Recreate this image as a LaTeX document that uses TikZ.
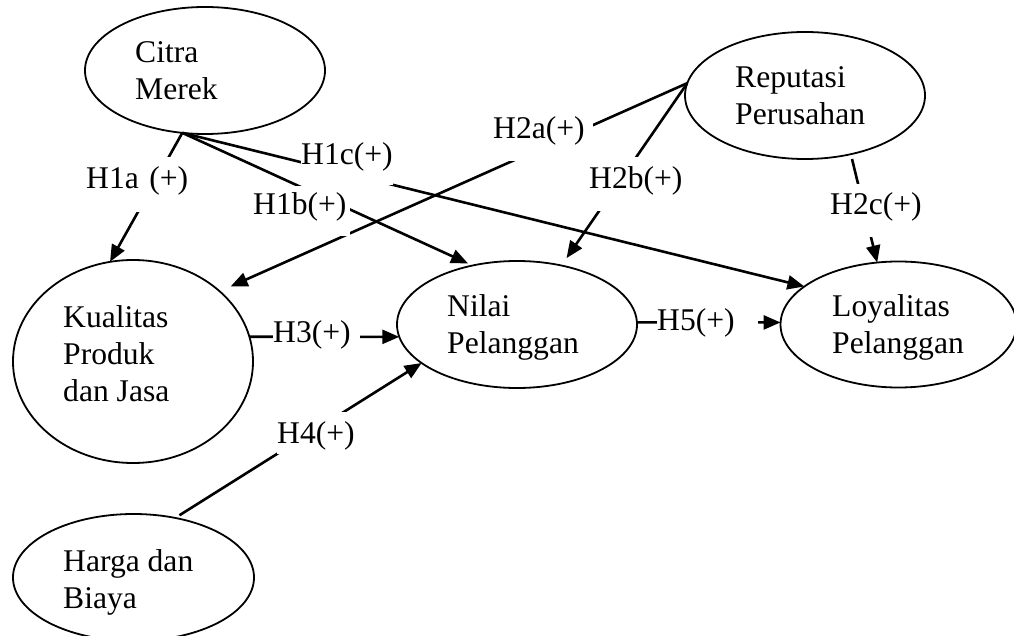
\documentclass[tikz,border=0pt]{standalone}
\usepackage{fontspec}
\setmainfont{Liberation Serif}
\usetikzlibrary{shapes.geometric,arrows.meta}
\begin{document}
\begin{tikzpicture}[x=1pt,y=-1pt,
  font=\fontsize{31.6}{37}\selectfont,
  ell/.style={ellipse, draw, line width=1.8pt, inner sep=0pt, outer sep=0pt},
  txt/.style={anchor=base west, align=left, inner sep=0pt},
  conn/.style={line width=2.6pt},
  arr/.style={conn, -{Triangle[length=17pt,width=14pt]}},
  lbl/.style={fill=white, inner sep=0pt, anchor=base west, align=left},
]
\useasboundingbox[fill=white] (0,0) rectangle (1014,636);
% ellipses
\node[ell, minimum width=240pt, minimum height=127pt] (citra) at (205,70.5) {};
\node[ell, minimum width=240pt, minimum height=127pt] (rep) at (805,95.5) {};
\node[ell, minimum width=240pt, minimum height=203pt] (kual) at (133,361.5) {};
\node[ell, minimum width=240pt, minimum height=127pt] (nilai) at (517,324.5) {};
\node[ell, minimum width=236pt, minimum height=126pt] (loy) at (898.5,324.5) {};
\node[ell, minimum width=241pt, minimum height=127pt] (harga) at (133.5,577.5) {};
% texts (anchored at the baseline of the last line)
\node[txt] (citraT) at (135,100) {Citra\\Merek};
\node[txt] (repT) at (735,125) {Reputasi\\Perusahan};
\node[txt] (kualT) at (63,401) {Kualitas\\Produk\\dan Jasa};
\node[txt] (nilaiT) at (447,353) {Nilai\\Pelanggan};
\node[txt] (loyT) at (832,353) {Loyalitas\\Pelanggan};
\node[txt] (hargaT) at (63,608) {Harga dan\\Biaya};
% connectors
\draw[arr] (citra.-110) -- (kual.103);
\draw[arr, shorten >=5pt] (citra.-110) -- (nilai.127);
\draw[arr] (citra.-110) -- (loy.158);
\draw[arr, shorten >=12pt] (rep.174) -- (kual.39);
\draw[arr, shorten >=9pt] (rep.174) -- (nilai.53);
\draw[arr, shorten <=5pt] (rep.-52) -- (loy.109);
\draw[arr] (kual.12) -- (nilai.186);
\draw[arr, shorten <=5pt] (harga.55) -- (nilai.202);
\draw[arr] (nilai.1) -- (loy.179);
% labels (white boxes that interrupt the lines)
\node[lbl, text width=101pt, text height=32pt, text depth=23pt] (l1a) at (86,189) {\mbox{H1a (+)}};
\node[lbl, text width=97pt, text height=29pt, text depth=21pt] (l1b) at (253,215) {\mbox{H1b(+)}};
\node[lbl, text width=92pt, text height=25pt, text depth=20pt] (l1c) at (301,165) {\mbox{H1c(+)}};
\node[lbl, text width=100pt, text height=27pt, text depth=22pt] (l2a) at (493,139) {\mbox{H2a(+)}};
\node[lbl, text width=95pt, text height=32pt, text depth=22pt] (l2b) at (589,189) {\mbox{H2b(+)}};
\node[lbl, text width=92pt, text height=31pt, text depth=22pt] (l2c) at (830,215) {\mbox{H2c(+)}};
\node[lbl, text width=87pt, text height=24pt, text depth=8pt] (l3) at (273,342) {\mbox{H3(+)}};
\node[lbl, text width=78pt, text height=31pt, text depth=11pt] (l4) at (277,443) {\mbox{H4(+)}};
\node[lbl, text width=101pt, text height=22pt, text depth=6pt] (l5) at (657,330) {\mbox{H5(+)}};
\end{tikzpicture}
\end{document}
